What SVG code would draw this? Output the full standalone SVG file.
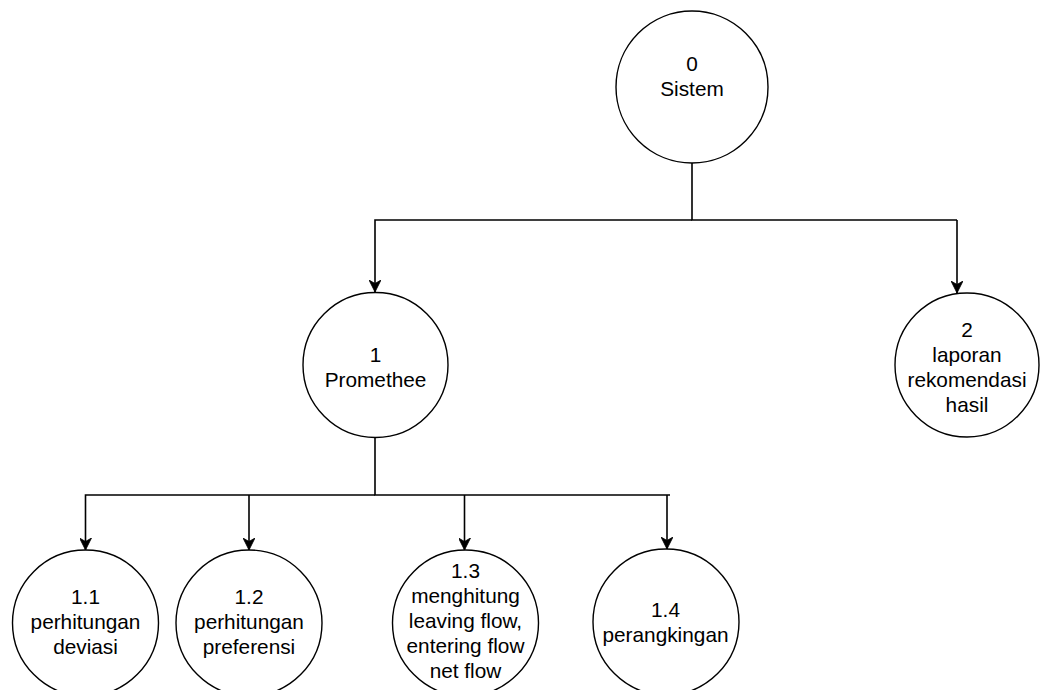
<svg xmlns="http://www.w3.org/2000/svg" width="1044" height="690" viewBox="0 0 1044 690">
<style>
.node{fill:#ffffff;stroke:#000000;stroke-width:1.4}
.lbl{font-family:"Liberation Sans",Arial,Helvetica,sans-serif;font-size:20.8px;fill:#000000;text-anchor:middle}
.edge{fill:none;stroke:#000000;stroke-width:1.6;marker-end:url(#arr)}
.line{fill:none;stroke:#000000;stroke-width:1.6}
</style>
<defs>
<marker id="arr" markerUnits="userSpaceOnUse" viewBox="0 0 12 12" refX="12" refY="6" markerWidth="12" markerHeight="12" orient="auto">
<path d="M0,0 L12,6 L0,12 L3.5,6 Z" fill="#000000" stroke="#000000" stroke-width="0.8"/>
</marker>
</defs>
<rect width="1044" height="690" fill="#ffffff"/>
<g id="connectors">
<path class="line" d="M692,163 V220 H957"/>
<path class="edge" d="M692,220 H375 V292"/>
<path class="edge" d="M957,220 V293"/>
<path class="line" d="M375,438 V495 H670"/>
<path class="edge" d="M375,495 H85.5 V550"/>
<path class="edge" d="M249,495 V550"/>
<path class="edge" d="M464.5,495 V550"/>
<path class="edge" d="M667,495 V549"/>
</g>
<g id="node-0">
<circle class="node" cx="692" cy="87" r="76"/>
<text class="lbl" x="692" y="71">0</text>
<text class="lbl" x="692" y="96">Sistem</text>
</g>
<g id="node-1">
<circle class="node" cx="375.5" cy="365" r="72.5"/>
<text class="lbl" x="375.5" y="362">1</text>
<text class="lbl" x="375.5" y="387">Promethee</text>
</g>
<g id="node-2">
<circle class="node" cx="967" cy="365" r="72"/>
<text class="lbl" x="967" y="337">2</text>
<text class="lbl" x="967" y="362">laporan</text>
<text class="lbl" x="967" y="387">rekomendasi</text>
<text class="lbl" x="967" y="412">hasil</text>
</g>
<g id="node-1-1">
<circle class="node" cx="85.5" cy="623" r="73"/>
<text class="lbl" x="85.5" y="604">1.1</text>
<text class="lbl" x="85.5" y="629">perhitungan</text>
<text class="lbl" x="85.5" y="654">deviasi</text>
</g>
<g id="node-1-2">
<circle class="node" cx="249" cy="623" r="73"/>
<text class="lbl" x="249" y="604">1.2</text>
<text class="lbl" x="249" y="629">perhitungan</text>
<text class="lbl" x="249" y="654">preferensi</text>
</g>
<g id="node-1-3">
<circle class="node" cx="465.5" cy="623" r="73"/>
<text class="lbl" x="465.5" y="578">1.3</text>
<text class="lbl" x="465.5" y="603">menghitung</text>
<text class="lbl" x="465.5" y="628">leaving flow,</text>
<text class="lbl" x="465.5" y="653">entering flow</text>
<text class="lbl" x="465.5" y="678">net flow</text>
</g>
<g id="node-1-4">
<circle class="node" cx="666" cy="622" r="73"/>
<text class="lbl" x="665.5" y="617">1.4</text>
<text class="lbl" x="665.5" y="642">perangkingan</text>
</g>
</svg>
